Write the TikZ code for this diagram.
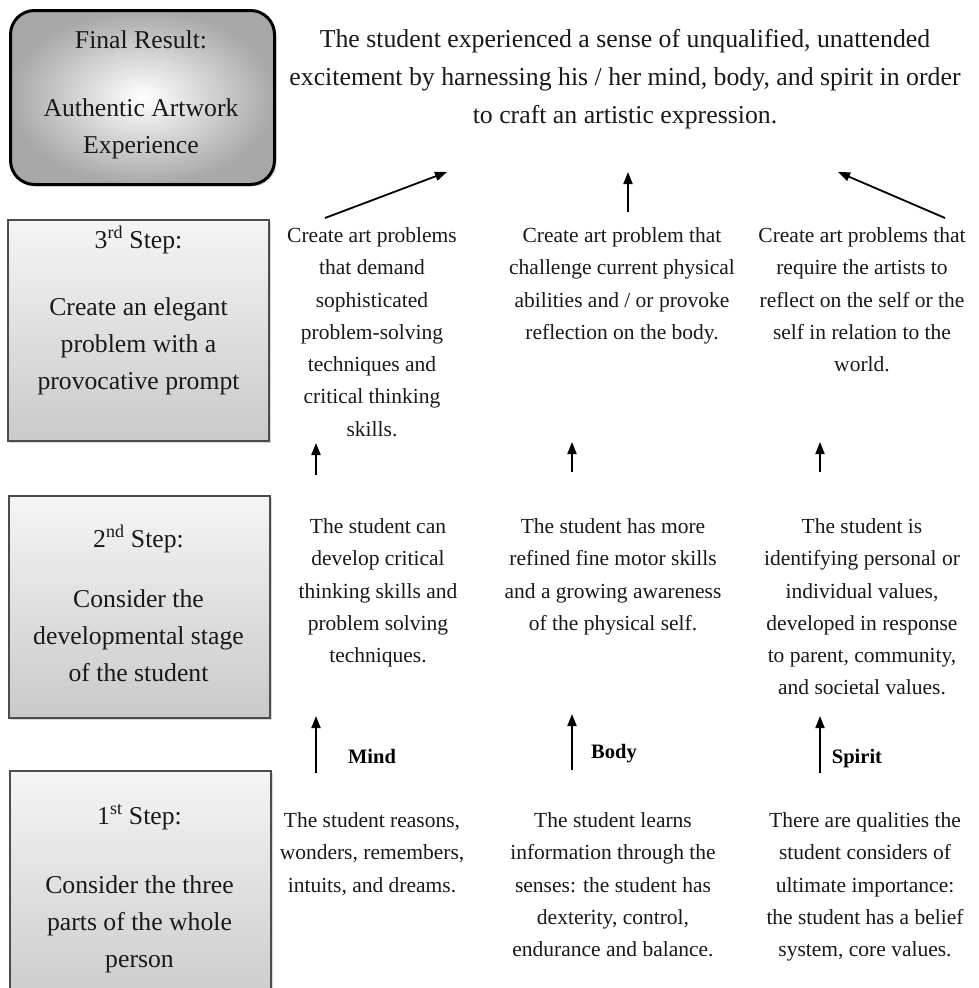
\documentclass[tikz,border=0pt]{standalone}
\usepackage{fontspec}
\setmainfont{Liberation Serif}
\usetikzlibrary{arrows.meta,shadows}
\begin{document}
\begin{tikzpicture}[x=1pt,y=-1pt,
  stepbox/.style={draw=black!70,line width=1.6pt,top color=gray!8,bottom color=gray!42,
     drop shadow={shadow xshift=2pt,shadow yshift=-2pt,opacity=0.3},anchor=north west,inner sep=0pt},
  finalbox/.style={draw=black,line width=3pt,rounded corners=24pt,shading=radial,inner color=white,outer color=gray!68,
     drop shadow={shadow xshift=2pt,shadow yshift=-2pt,opacity=0.3},anchor=north west,inner sep=0pt},
  boxtitle/.style={font=\fontsize{25.7}{37}\selectfont,anchor=base,inner sep=0pt,text=black!90},
  boxbody/.style={font=\fontsize{25.7}{37}\selectfont,anchor=north,align=center,inner sep=0pt,text=black!90},
  coltext/.style={font=\fontsize{21.5}{32.3}\selectfont,anchor=north,align=center,inner sep=0pt,text=black!90},
  toptext/.style={font=\fontsize{25.8}{38}\selectfont,anchor=north,align=center,inner sep=0pt,text=black!90},
  lbl/.style={font=\fontsize{20.5}{24}\selectfont\bfseries,anchor=base,inner sep=0pt},
  arr/.style={line width=1.8pt,-{Triangle[length=12pt,width=9pt]}}]
\useasboundingbox[fill=white] (0,0) rectangle (979,988);

% left boxes
\node[finalbox,minimum width=264pt,minimum height=174pt] (fb) at (9,9) {};
\node[stepbox,minimum width=261pt,minimum height=221pt] (b3) at (7,219) {};
\node[stepbox,minimum width=261pt,minimum height=222pt] (b2) at (8,495) {};
\node[stepbox,minimum width=261pt,minimum height=240pt] (b1) at (9,770) {};

\node[boxtitle] (fbt) at (141,48) {Final Result:};
\node[boxbody] (fbb) at (141,98) {Authentic Artwork\\Experience};

\node[boxtitle] (b3t) at (138.5,248) {3\textsuperscript{rd} Step:};
\node[boxbody] (b3b) at (138.5,297.4) {Create an elegant\\problem with a\\provocative prompt};

\node[boxtitle] (b2t) at (138.5,547) {2\textsuperscript{nd} Step:};
\node[boxbody] (b2b) at (138.5,589.4) {Consider the\\developmental stage\\of the student};

\node[boxtitle] (b1t) at (139.5,824) {1\textsuperscript{st} Step:};
\node[boxbody] (b1b) at (139.5,875.4) {Consider the three\\parts of the whole\\person};

% top text
\node[toptext] (top) at (625,29.4) {The student experienced a sense of unqualified, unattended\\excitement by harnessing his / her mind, body, and spirit in order\\to craft an artistic expression.};

% row 3
\node[coltext] (r3a) at (372,227.3) {Create art problems\\that demand\\sophisticated\\problem-solving\\techniques and\\critical thinking\\skills.};
\node[coltext] (r3b) at (622,227.3) {Create art problem that\\challenge current physical\\abilities and / or provoke\\reflection on the body.};
\node[coltext] (r3c) at (862,227.3) {Create art problems that\\require the artists to\\reflect on the self or the\\self in relation to the\\world.};

% row 2
\node[coltext] (r2a) at (378,518.3) {The student can\\develop critical\\thinking skills and\\problem solving\\techniques.};
\node[coltext] (r2b) at (613,518.3) {The student has more\\refined fine motor skills\\and a growing awareness\\of the physical self.};
\node[coltext] (r2c) at (862,518.3) {The student is\\identifying personal or\\individual values,\\developed in response\\to parent, community,\\and societal values.};

% row 1
\node[coltext] (r1a) at (372,812.3) {The student reasons,\\wonders, remembers,\\intuits, and dreams.};
\node[coltext] (r1b) at (613,812.3) {The student learns\\information through the\\senses: the student has\\dexterity, control,\\endurance and balance.};
\node[coltext] (r1c) at (865,812.3) {There are qualities the\\student considers of\\ultimate importance:\\the student has a belief\\system, core values.};

% labels
\node[lbl] (mind) at (372,763) {Mind};
\node[lbl] (body) at (614,758) {Body};
\node[lbl] (spirit) at (857,763) {Spirit};

% arrow end points
\coordinate (t1s) at (325,218); \coordinate (t1e) at (447,172);
\coordinate (t2s) at (628,212); \coordinate (t2e) at (628,172);
\coordinate (t3s) at (945,218); \coordinate (t3e) at (838,172);
\coordinate (m1s) at (316,475); \coordinate (m1e) at (316,443);
\coordinate (m2s) at (572,472); \coordinate (m2e) at (572,442);
\coordinate (m3s) at (820,472); \coordinate (m3e) at (820,442);
\coordinate (l1s) at (316,773); \coordinate (l1e) at (316,716);
\coordinate (l2s) at (572,770); \coordinate (l2e) at (572,714);
\coordinate (l3s) at (820,773); \coordinate (l3e) at (820,716);

\draw[arr] (t1s) -- (t1e);
\draw[arr] (t2s) -- (t2e);
\draw[arr] (t3s) -- (t3e);
\draw[arr] (m1s) -- (m1e);
\draw[arr] (m2s) -- (m2e);
\draw[arr] (m3s) -- (m3e);
\draw[arr] (l1s) -- (l1e);
\draw[arr] (l2s) -- (l2e);
\draw[arr] (l3s) -- (l3e);
\end{tikzpicture}
\end{document}
